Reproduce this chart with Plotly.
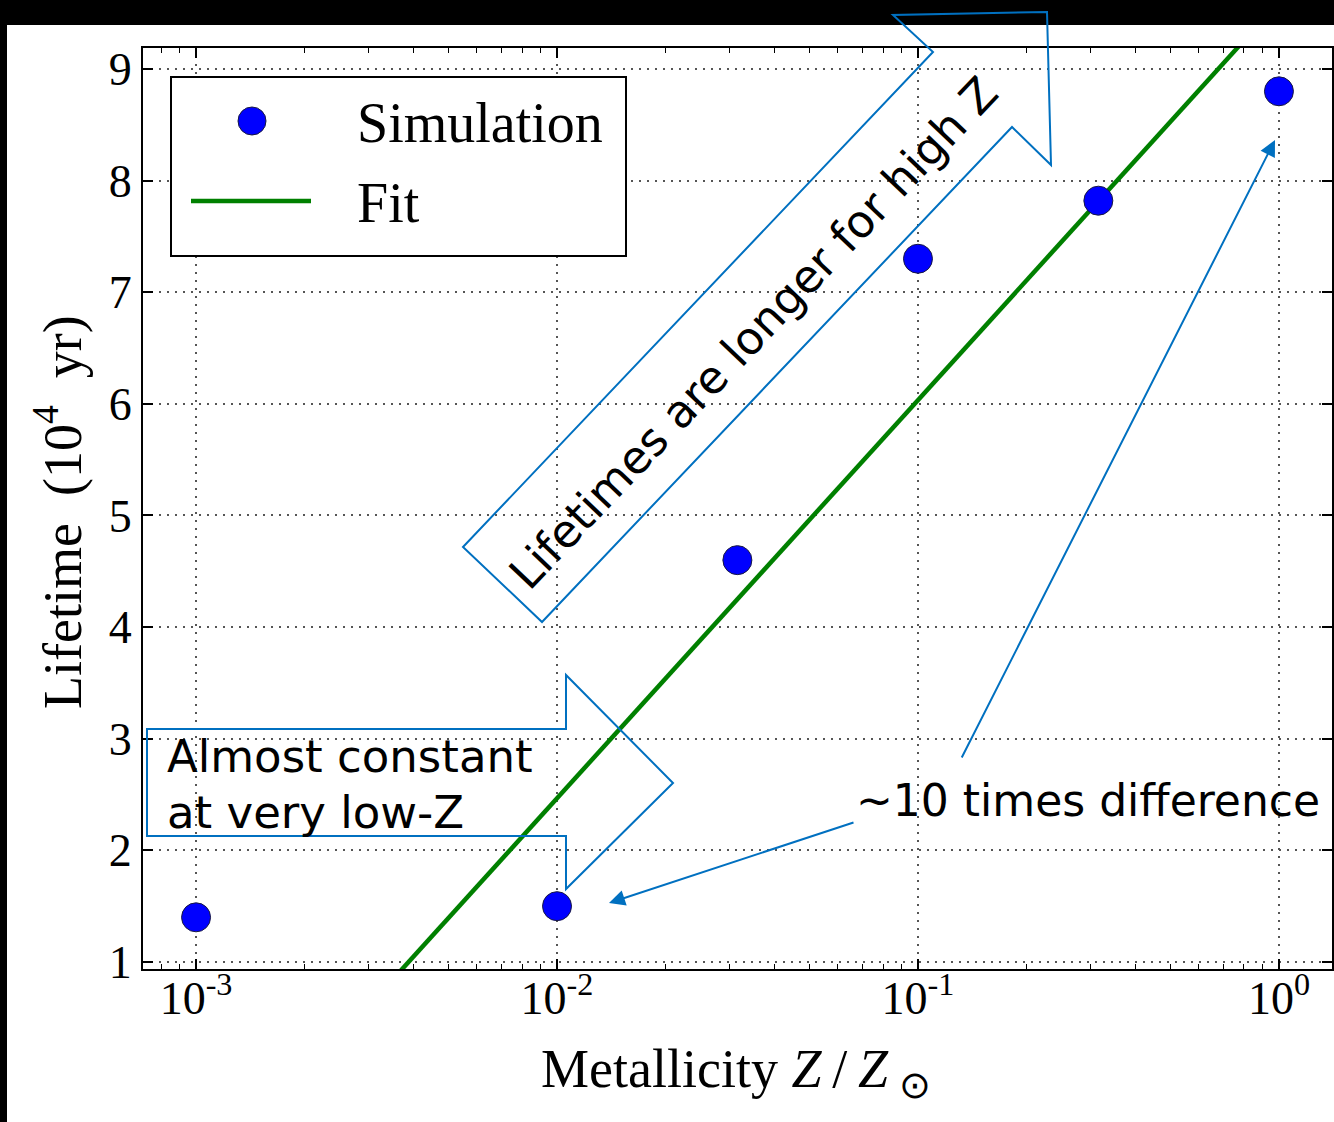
import plotly.graph_objects as go

# Simulated stellar lifetimes (units of 10^4 yr) versus metallicity Z/Zsun
metallicity = [0.001, 0.01, 0.0316, 0.1, 0.316, 1.0]
lifetime = [1.40, 1.50, 4.60, 7.30, 7.82, 8.80]

# End points of the linear-in-log(Z) fit
fit_metallicity = [0.001, 1.0]
fit_lifetime = [-1.10, 9.60]

x_tick_vals = [0.001, 0.01, 0.1, 1.0]
x_tick_text = ["10<sup>-3</sup>", "10<sup>-2</sup>", "10<sup>-1</sup>", "10<sup>0</sup>"]
y_tick_vals = [1, 2, 3, 4, 5, 6, 7, 8, 9]

W, H = 1334, 1122
L, R, T, B = 143, 1332, 48, 969

def px(x):
    return (x - L) / (R - L)

def py(y):
    return (B - y) / (B - T)

SERIF = "Liberation Serif"
SANS = "DejaVu Sans"
BLUE = "#0070C0"
GREEN = "#008000"

fig = go.Figure()
fig.add_trace(go.Scatter(
    x=fit_metallicity, y=fit_lifetime, mode="lines",
    line=dict(color=GREEN, width=4.5), name="Fit", showlegend=False,
))
fig.add_trace(go.Scatter(
    x=metallicity, y=lifetime, mode="markers",
    marker=dict(color="#0000FF", size=29, line=dict(color="#1a1a40", width=1)),
    name="Simulation", showlegend=False,
))

minor_vals = [k * 10.0 ** e for e in range(-4, 1) for k in range(2, 10)]

grid = dict(showgrid=True, gridcolor="#555555", gridwidth=1.5, griddash="2px,6px")

fig.update_xaxes(
    type="log", range=[-3.147, 0.147],
    tickmode="array", tickvals=x_tick_vals, ticktext=x_tick_text,
    ticks="inside", ticklen=10, tickwidth=1.5, tickcolor="black",
    minor=dict(tickmode="array", tickvals=minor_vals, ticks="inside", ticklen=5,
               tickwidth=1.2, tickcolor="black", showgrid=False),
    showline=True, linecolor="black", linewidth=2, mirror="allticks",
    tickfont=dict(family=SERIF, size=46, color="black"),
    ticklabelstandoff=-12, zeroline=False, automargin=False, **grid,
)
fig.update_yaxes(
    range=[0.937, 9.188],
    tickmode="array", tickvals=y_tick_vals,
    ticks="inside", ticklen=10, tickwidth=1.5, tickcolor="black",
    showline=True, linecolor="black", linewidth=2, mirror="allticks",
    tickfont=dict(family=SERIF, size=46, color="black"),
    ticklabelstandoff=0, zeroline=False, automargin=False, **grid,
)

shapes = []
# dark frame strips along the top and left edges
shapes.append(dict(type="rect", xref="paper", yref="paper", layer="above",
                   x0=px(0), x1=px(W), y0=py(0), y1=py(25),
                   fillcolor="black", line=dict(width=0)))
shapes.append(dict(type="rect", xref="paper", yref="paper", layer="above",
                   x0=px(0), x1=px(7), y0=py(0), y1=py(H),
                   fillcolor="black", line=dict(width=0)))
# legend box
shapes.append(dict(type="rect", xref="paper", yref="paper", layer="above",
                   x0=px(171), x1=px(626), y0=py(256), y1=py(77),
                   fillcolor="white", line=dict(color="black", width=2)))
shapes.append(dict(type="circle", xref="paper", yref="paper", layer="above",
                   x0=px(238), x1=px(266), y0=py(135), y1=py(107),
                   fillcolor="#0000FF", line=dict(color="#1a1a40", width=1)))
shapes.append(dict(type="line", xref="paper", yref="paper", layer="above",
                   x0=px(191), x1=px(311), y0=py(201), y1=py(201),
                   line=dict(color=GREEN, width=4.5)))


def block_arrow(points):
    d = "M " + " L ".join(f"{px(x):.5f},{py(y):.5f}" for x, y in points) + " Z"
    return dict(type="path", xref="paper", yref="paper", layer="above", path=d,
                line=dict(color=BLUE, width=2), fillcolor="rgba(0,0,0,0)")

shapes.append(block_arrow([(147, 729), (566, 729), (566, 675), (673, 783),
                           (566, 889), (566, 836), (147, 836)]))
shapes.append(block_arrow([(463, 547), (933, 52), (893, 15), (1047, 12),
                           (1051, 165), (1012, 127), (542, 622)]))

annotations = [
    dict(text="Simulation", x=px(355), y=py(123), xanchor="left", yanchor="middle",
         font=dict(family=SERIF, size=56, color="black")),
    dict(text="Fit", x=px(355), y=py(203), xanchor="left", yanchor="middle",
         font=dict(family=SERIF, size=56, color="black")),
    dict(text="Almost constant", x=px(165), y=py(756),
         xanchor="left", yanchor="middle",
         font=dict(family=SANS, size=45, color="black")),
    dict(text="at very low-Z", x=px(165), y=py(812),
         xanchor="left", yanchor="middle",
         font=dict(family=SANS, size=45, color="black")),
    dict(text="Lifetimes are longer for high Z", x=px(753), y=py(333),
         textangle=-46.5, xanchor="center", yanchor="middle",
         font=dict(family=SANS, size=45, color="black")),
    dict(text="~10 times difference", x=px(1088), y=py(800),
         xanchor="center", yanchor="middle",
         font=dict(family=SANS, size=44, color="black")),
    dict(text="Lifetime\u00a0\u00a0(10<sup>4</sup>\u00a0\u00a0yr)", x=px(58), y=py(512),
         textangle=-90, xanchor="center", yanchor="middle",
         font=dict(family=SERIF, size=54, color="black")),
    dict(text="Metallicity <i>Z</i>\u2009/\u2009<i>Z</i>\u2009<sub>\u2299</sub>",
         x=px(736), y=py(1072), xanchor="center", yanchor="middle",
         font=dict(family=SERIF, size=54, color="black")),
]
for a in annotations:
    a.update(xref="paper", yref="paper", showarrow=False)

# pointer arrows from the "~10 times" label to the two end points
annotations.append(dict(text="", xref="paper", yref="paper", x=px(1275), y=py(140),
                        ax=961 - 1275, ay=759 - 140, showarrow=True, arrowhead=2,
                        arrowsize=1.6, arrowwidth=2, arrowcolor=BLUE, standoff=0))
annotations.append(dict(text="", xref="paper", yref="paper", x=px(609), y=py(903),
                        ax=855 - 609, ay=822 - 903, showarrow=True, arrowhead=2,
                        arrowsize=1.6, arrowwidth=2, arrowcolor=BLUE, standoff=0))

fig.update_layout(
    width=W, height=H,
    margin=dict(l=L, r=W - R, t=T, b=H - B, autoexpand=False),
    paper_bgcolor="white", plot_bgcolor="white",
    shapes=shapes, annotations=annotations, showlegend=False,
)

fig.write_html("out.html")
